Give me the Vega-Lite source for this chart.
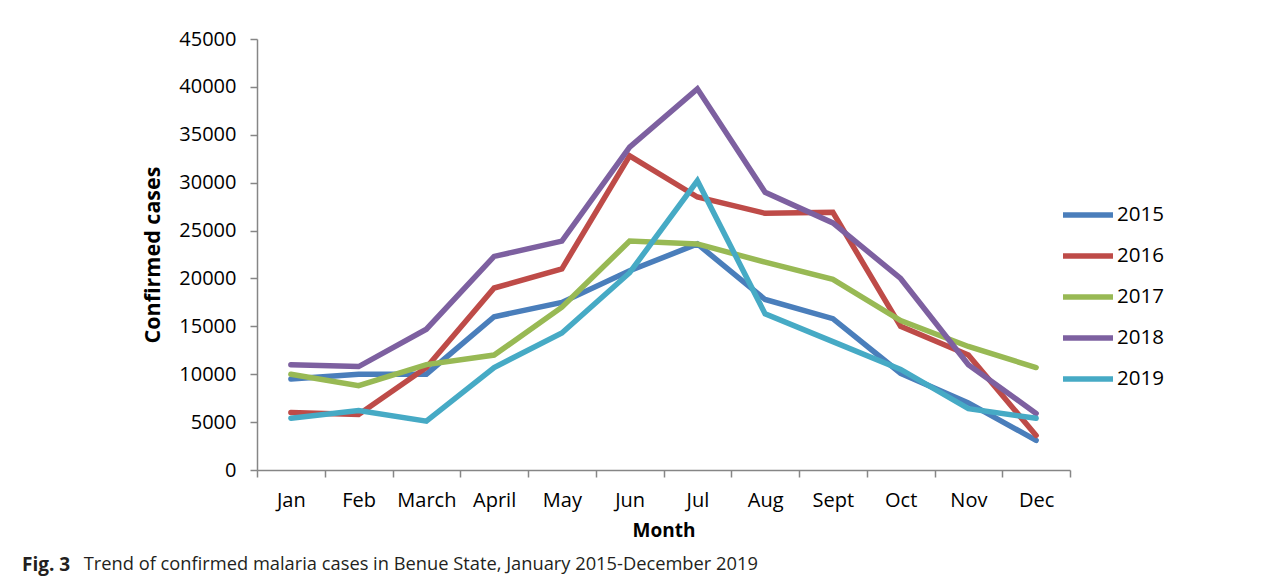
{
  "$schema": "https://vega.github.io/schema/vega-lite/v6.json",
  "width": 813,
  "height": 431,
  "autosize": {"type": "none"},
  "padding": {"left": 257, "top": 39, "right": 212, "bottom": 114},
  "background": "white",
  "title": {
    "text": "Fig. 3",
    "subtitle": "\u200b\u00a0\u00a0\u00a0\u00a0\u00a0\u00a0\u00a0\u00a0\u00a0\u00a0\u00a0\u00a0\u00a0Trend of confirmed malaria cases in Benue State, January 2015-December 2019",
    "orient": "bottom",
    "anchor": "start",
    "frame": "group",
    "dx": -235,
    "offset": 16,
    "font": "Open Sans",
    "fontSize": 19,
    "fontWeight": "bold",
    "color": "#231f20",
    "subtitleFont": "Open Sans",
    "subtitleFontSize": 18.3,
    "subtitleFontWeight": "normal",
    "subtitleColor": "#231f20",
    "subtitlePadding": -19
  },
  "data": {
    "values": [
      {"month": "Jan", "year": "2015", "cases": 9500},
      {"month": "Feb", "year": "2015", "cases": 10000},
      {"month": "March", "year": "2015", "cases": 10000},
      {"month": "April", "year": "2015", "cases": 16000},
      {"month": "May", "year": "2015", "cases": 17500},
      {"month": "Jun", "year": "2015", "cases": 20800},
      {"month": "Jul", "year": "2015", "cases": 23600},
      {"month": "Aug", "year": "2015", "cases": 17800},
      {"month": "Sept", "year": "2015", "cases": 15800},
      {"month": "Oct", "year": "2015", "cases": 10100},
      {"month": "Nov", "year": "2015", "cases": 7000},
      {"month": "Dec", "year": "2015", "cases": 3100},
      {"month": "Jan", "year": "2016", "cases": 6000},
      {"month": "Feb", "year": "2016", "cases": 5800},
      {"month": "March", "year": "2016", "cases": 10700},
      {"month": "April", "year": "2016", "cases": 19000},
      {"month": "May", "year": "2016", "cases": 21000},
      {"month": "Jun", "year": "2016", "cases": 32800},
      {"month": "Jul", "year": "2016", "cases": 28500},
      {"month": "Aug", "year": "2016", "cases": 26800},
      {"month": "Sept", "year": "2016", "cases": 26900},
      {"month": "Oct", "year": "2016", "cases": 15000},
      {"month": "Nov", "year": "2016", "cases": 12000},
      {"month": "Dec", "year": "2016", "cases": 3600},
      {"month": "Jan", "year": "2017", "cases": 10000},
      {"month": "Feb", "year": "2017", "cases": 8800},
      {"month": "March", "year": "2017", "cases": 11000},
      {"month": "April", "year": "2017", "cases": 12000},
      {"month": "May", "year": "2017", "cases": 17000},
      {"month": "Jun", "year": "2017", "cases": 23900},
      {"month": "Jul", "year": "2017", "cases": 23600},
      {"month": "Aug", "year": "2017", "cases": 21700},
      {"month": "Sept", "year": "2017", "cases": 19900},
      {"month": "Oct", "year": "2017", "cases": 15600},
      {"month": "Nov", "year": "2017", "cases": 12900},
      {"month": "Dec", "year": "2017", "cases": 10700},
      {"month": "Jan", "year": "2018", "cases": 11000},
      {"month": "Feb", "year": "2018", "cases": 10800},
      {"month": "March", "year": "2018", "cases": 14700},
      {"month": "April", "year": "2018", "cases": 22300},
      {"month": "May", "year": "2018", "cases": 23900},
      {"month": "Jun", "year": "2018", "cases": 33700},
      {"month": "Jul", "year": "2018", "cases": 39800},
      {"month": "Aug", "year": "2018", "cases": 29000},
      {"month": "Sept", "year": "2018", "cases": 25800},
      {"month": "Oct", "year": "2018", "cases": 20000},
      {"month": "Nov", "year": "2018", "cases": 11000},
      {"month": "Dec", "year": "2018", "cases": 5900},
      {"month": "Jan", "year": "2019", "cases": 5400},
      {"month": "Feb", "year": "2019", "cases": 6200},
      {"month": "March", "year": "2019", "cases": 5100},
      {"month": "April", "year": "2019", "cases": 10700},
      {"month": "May", "year": "2019", "cases": 14300},
      {"month": "Jun", "year": "2019", "cases": 20600},
      {"month": "Jul", "year": "2019", "cases": 30200},
      {"month": "Aug", "year": "2019", "cases": 16300},
      {"month": "Sept", "year": "2019", "cases": 13400},
      {"month": "Oct", "year": "2019", "cases": 10500},
      {"month": "Nov", "year": "2019", "cases": 6400},
      {"month": "Dec", "year": "2019", "cases": 5400}
    ]
  },
  "mark": {"type": "line", "strokeWidth": 5.5, "strokeCap": "round", "strokeJoin": "miter"},
  "encoding": {
    "x": {
      "field": "month",
      "type": "ordinal",
      "sort": ["Jan", "Feb", "March", "April", "May", "Jun", "Jul", "Aug", "Sept", "Oct", "Nov", "Dec"],
      "scale": {"type": "band", "paddingInner": 0, "paddingOuter": 0},
      "axis": {
        "title": "Month",
        "labelAngle": 0,
        "tickBand": "extent",
        "tickSize": 7,
        "labelPadding": 13,
        "titlePadding": 11,
        "titleFontSize": 19
      }
    },
    "y": {
      "field": "cases",
      "type": "quantitative",
      "scale": {"domain": [0, 45000]},
      "axis": {
        "title": "Confirmed cases",
        "values": [0, 5000, 10000, 15000, 20000, 25000, 30000, 35000, 40000, 45000],
        "format": "d",
        "grid": false,
        "tickSize": 7,
        "labelPadding": 14,
        "titlePadding": 14,
        "titleFontSize": 21.5
      }
    },
    "color": {
      "field": "year",
      "type": "nominal",
      "scale": {
        "domain": ["2015", "2016", "2017", "2018", "2019"],
        "range": ["#4a7ebb", "#be4b48", "#98b954", "#7d60a0", "#46aac5"]
      },
      "legend": {
        "title": null,
        "orient": "none",
        "legendX": 803,
        "legendY": 148,
        "symbolType": "stroke",
        "symbolStrokeWidth": 5.5,
        "symbolSize": 2500,
        "labelOffset": 1,
        "labelFontSize": 20.5,
        "labelFont": "Open Sans",
        "labelColor": "black",
        "rowPadding": 2
      }
    }
  },
  "config": {
    "view": {"stroke": null},
    "axis": {
      "domainColor": "#868686",
      "tickColor": "#868686",
      "domainWidth": 1.5,
      "tickWidth": 1.5,
      "labelFont": "Open Sans",
      "labelFontSize": 20,
      "labelColor": "black",
      "titleFont": "Open Sans",
      "titleFontWeight": "bold",
      "titleColor": "black"
    }
  }
}
